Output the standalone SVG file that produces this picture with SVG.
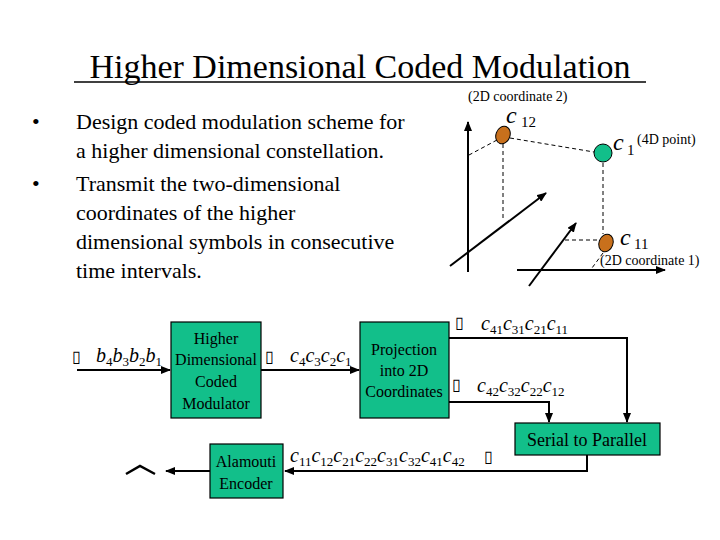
<svg xmlns="http://www.w3.org/2000/svg" width="720" height="540" viewBox="0 0 720 540">
<defs>
<marker id="ar" markerWidth="10" markerHeight="8" refX="9" refY="4" orient="auto" markerUnits="userSpaceOnUse"><path d="M0,0 L10,4 L0,8 Z" fill="#000"/></marker>
</defs>
<rect width="720" height="540" fill="#fff"/>
<text font-family="Liberation Serif" x="360" y="78" font-size="34" text-anchor="middle">Higher Dimensional Coded Modulation</text>
<line x1="74" y1="82" x2="646" y2="82" stroke="#000" stroke-width="1.5"/>
<text font-family="Liberation Serif" font-size="22" x="32" y="129">•</text><text font-family="Liberation Serif" font-size="22" x="76" y="129">Design coded modulation scheme for</text>
<text font-family="Liberation Serif" font-size="22" x="76" y="158">a higher dimensional constellation.</text>
<text font-family="Liberation Serif" font-size="22" x="32" y="191">•</text><text font-family="Liberation Serif" font-size="22" x="76" y="191">Transmit the two-dimensional</text>
<text font-family="Liberation Serif" font-size="22" x="76" y="220">coordinates of the higher</text>
<text font-family="Liberation Serif" font-size="22" x="76" y="249">dimensional symbols in consecutive</text>
<text font-family="Liberation Serif" font-size="22" x="76" y="278">time intervals.</text>
<g id="plot">
<g stroke="#000" stroke-width="2" fill="none">
<line x1="468" y1="272" x2="468" y2="122" marker-end="url(#ar)"/>
<line x1="450" y1="266" x2="546" y2="193" marker-end="url(#ar)"/>
<line x1="517" y1="270" x2="665" y2="270" marker-end="url(#ar)"/>
<line x1="529" y1="286" x2="576" y2="223" marker-end="url(#ar)"/>
</g>
<path stroke="#000" stroke-width="1" stroke-dasharray="4,3" fill="none" d="M497,140 L469,155 M510,138 L594,152 M503,144 L503,220 M603,163 L603,234 M565,240 L599,240 M603,253 L592,268"/>
<ellipse cx="503" cy="135" rx="7" ry="9" fill="#c8701c" stroke="#000" transform="rotate(20 503 135)"/>
<circle cx="603" cy="153" r="9" fill="#12bf8a" stroke="#000"/>
<ellipse cx="606" cy="243" rx="7" ry="9" fill="#c8701c" stroke="#000" transform="rotate(20 606 243)"/>
<text font-family="Liberation Serif" x="468" y="101" font-size="14">(2D coordinate 2)</text>
<text font-family="Liberation Serif" font-style="italic" x="506" y="123" font-size="24">c</text><text font-family="Liberation Serif" x="521" y="127" font-size="15">12</text>
<text font-family="Liberation Serif" font-style="italic" x="613" y="150" font-size="24">c</text><text font-family="Liberation Serif" x="627" y="155" font-size="15">1</text><text font-family="Liberation Serif" x="637" y="144" font-size="14">(4D point)</text>
<text font-family="Liberation Serif" font-style="italic" x="620" y="245" font-size="24">c</text><text font-family="Liberation Serif" x="634" y="249" font-size="15">11</text>
<text font-family="Liberation Serif" x="600" y="265" font-size="14">(2D coordinate 1)</text>
</g>
<g id="connectors" stroke="#000" stroke-width="2" fill="none">
<line x1="77" y1="370" x2="170" y2="370" marker-end="url(#ar)"/>
<line x1="261" y1="370" x2="359" y2="370" marker-end="url(#ar)"/>
<polyline points="449,338 627,338 627,422" marker-end="url(#ar)"/>
<polyline points="449,402 549,402 549,422" marker-end="url(#ar)"/>
<polyline points="587,455 587,471 285,471" marker-end="url(#ar)"/>
<line x1="210" y1="471" x2="166" y2="471" marker-end="url(#ar)"/>
<polyline points="126,474 140,466 155,474" stroke-width="2.5"/>
</g>
<g id="mod"><rect fill="#12bf8a" stroke="#000" stroke-width="1.2" x="171" y="322" width="90" height="96"/>
<text font-family="Liberation Serif" font-size="16" text-anchor="middle" x="216" y="344">Higher</text><text font-family="Liberation Serif" font-size="16" text-anchor="middle" x="216" y="365">Dimensional</text><text font-family="Liberation Serif" font-size="16" text-anchor="middle" x="216" y="387">Coded</text><text font-family="Liberation Serif" font-size="16" text-anchor="middle" x="216" y="409">Modulator</text></g>
<g id="proj"><rect fill="#12bf8a" stroke="#000" stroke-width="1.2" x="360" y="322" width="89" height="96"/>
<text font-family="Liberation Serif" font-size="16" text-anchor="middle" x="404" y="355">Projection</text><text font-family="Liberation Serif" font-size="16" text-anchor="middle" x="404" y="376">into 2D</text><text font-family="Liberation Serif" font-size="16" text-anchor="middle" x="404" y="397">Coordinates</text></g>
<g id="s2p"><rect fill="#12bf8a" stroke="#000" stroke-width="1.2" x="515" y="423" width="145" height="32"/>
<text font-family="Liberation Serif" font-size="18" x="587" y="446" text-anchor="middle">Serial to Parallel</text></g>
<g id="alam"><rect fill="#12bf8a" stroke="#000" stroke-width="1.2" x="210" y="444" width="73" height="54"/>
<text font-family="Liberation Serif" font-size="16" text-anchor="middle" x="246" y="467">Alamouti</text><text font-family="Liberation Serif" font-size="16" text-anchor="middle" x="246" y="489">Encoder</text></g>
<g font-size="20">
<text font-family="Liberation Serif" x="72" y="362" font-size="16">▯</text>
<text font-family="Liberation Serif" font-style="italic" x="96" y="362">b<tspan font-style="normal" font-size="13" dy="4">4</tspan><tspan dy="-4">b</tspan><tspan font-style="normal" font-size="13" dy="4">3</tspan><tspan dy="-4">b</tspan><tspan font-style="normal" font-size="13" dy="4">2</tspan><tspan dy="-4">b</tspan><tspan font-style="normal" font-size="13" dy="4">1</tspan></text>
<text font-family="Liberation Serif" x="265" y="362" font-size="16">▯</text>
<text font-family="Liberation Serif" font-style="italic" x="290" y="362">c<tspan font-style="normal" font-size="13" dy="4">4</tspan><tspan dy="-4">c</tspan><tspan font-style="normal" font-size="13" dy="4">3</tspan><tspan dy="-4">c</tspan><tspan font-style="normal" font-size="13" dy="4">2</tspan><tspan dy="-4">c</tspan><tspan font-style="normal" font-size="13" dy="4">1</tspan></text>
<text font-family="Liberation Serif" x="455" y="328" font-size="16">▯</text>
<text font-family="Liberation Serif" font-style="italic" x="481" y="330">c<tspan font-style="normal" font-size="13" dy="4">41</tspan><tspan dy="-4">c</tspan><tspan font-style="normal" font-size="13" dy="4">31</tspan><tspan dy="-4">c</tspan><tspan font-style="normal" font-size="13" dy="4">21</tspan><tspan dy="-4">c</tspan><tspan font-style="normal" font-size="13" dy="4">11</tspan></text>
<text font-family="Liberation Serif" x="452" y="390" font-size="16">▯</text>
<text font-family="Liberation Serif" font-style="italic" x="477" y="392">c<tspan font-style="normal" font-size="13" dy="4">42</tspan><tspan dy="-4">c</tspan><tspan font-style="normal" font-size="13" dy="4">32</tspan><tspan dy="-4">c</tspan><tspan font-style="normal" font-size="13" dy="4">22</tspan><tspan dy="-4">c</tspan><tspan font-style="normal" font-size="13" dy="4">12</tspan></text>
<text font-family="Liberation Serif" font-style="italic" x="290" y="462">c<tspan font-style="normal" font-size="13" dy="4">11</tspan><tspan dy="-4">c</tspan><tspan font-style="normal" font-size="13" dy="4">12</tspan><tspan dy="-4">c</tspan><tspan font-style="normal" font-size="13" dy="4">21</tspan><tspan dy="-4">c</tspan><tspan font-style="normal" font-size="13" dy="4">22</tspan><tspan dy="-4">c</tspan><tspan font-style="normal" font-size="13" dy="4">31</tspan><tspan dy="-4">c</tspan><tspan font-style="normal" font-size="13" dy="4">32</tspan><tspan dy="-4">c</tspan><tspan font-style="normal" font-size="13" dy="4">41</tspan><tspan dy="-4">c</tspan><tspan font-style="normal" font-size="13" dy="4">42</tspan></text>
<text font-family="Liberation Serif" x="484" y="462" font-size="16">▯</text>
</g>
</svg>
